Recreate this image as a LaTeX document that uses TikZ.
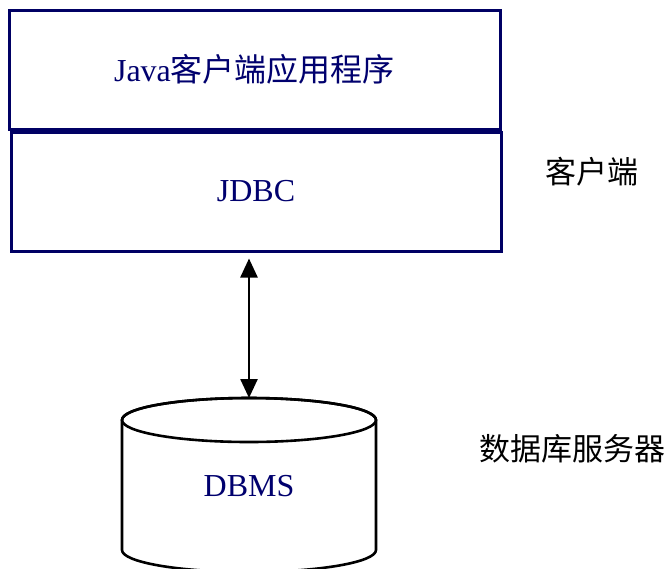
\documentclass[tikz,border=0pt]{standalone}
\usepackage{fontspec}
\setmainfont{Liberation Serif}
\newfontfamily\cjk{Noto Sans CJK SC}
\usetikzlibrary{arrows.meta}
\definecolor{navytext}{RGB}{0,0,110}
\definecolor{navyline}{RGB}{0,0,100}
\tikzset{
  layerbox/.style={draw=navyline, line width=3pt, fill=none, inner sep=0pt, text=navytext,
    font=\fontsize{32}{38}\selectfont},
  sidelabel/.style={text=black, font=\fontsize{31}{36}\selectfont\cjk, inner sep=0pt},
  linkarrow/.style={line width=2.5pt, {Triangle[length=19pt,width=17pt]}-{Triangle[length=19pt,width=17pt]}},
  cylline/.style={line width=2.6pt, draw=black, fill=white}
}
\begin{document}
\begin{tikzpicture}[x=1pt,y=-1pt]
\useasboundingbox[fill=white] (0,0) rectangle (671,568);
% client layers
\node[layerbox, minimum width=491pt, minimum height=119pt] (app) at (254.5,69.5) {Java{\cjk 客户端应用程序}};
\node[layerbox, minimum width=490pt, minimum height=119pt] (jdbc) at (256,191.5) {JDBC};
% database cylinder
\path[cylline] (122,420) -- (122,550) arc[start angle=180, end angle=360, x radius=127pt, y radius=22pt] -- (376,420) arc[start angle=0, end angle=180, x radius=127pt, y radius=22pt] -- cycle;
\draw[line width=2.6pt] (249,420) ellipse[x radius=127pt, y radius=22pt];
\coordinate (cyltop) at (249,398);
\node[text=navytext, font=\fontsize{32}{38}\selectfont, inner sep=0pt] (dbms) at (249,486) {DBMS};
% connector
\draw[linkarrow, shorten <=6pt] (cyltop |- jdbc.south) -- (cyltop);
% side labels
\node[sidelabel] (client) at (592,172) {客户端};
\node[sidelabel] (server) at (572,449) {数据库服务器};
\end{tikzpicture}
\end{document}
